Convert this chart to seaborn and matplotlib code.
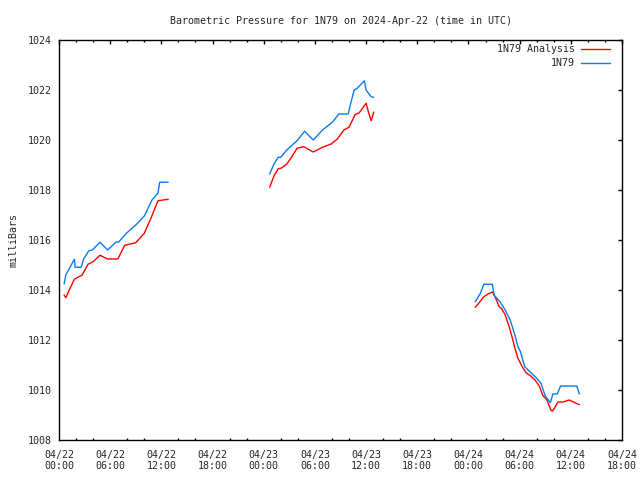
import matplotlib
matplotlib.use("Agg")
import matplotlib.pyplot as plt
import seaborn as sns
import pandas as pd
from matplotlib.lines import Line2D

# ---- data (hours since 2024-04-22 00:00 UTC, pressure in mb) ----
analysis_seg1_t = [0.6, 0.8, 1.3, 1.8, 2.2, 2.7, 3.4, 4.0, 4.8, 5.7, 6.9, 7.7, 9.0, 10.0, 10.8, 11.6, 12.8]
analysis_seg1_p = [1013.80, 1013.69, 1014.07, 1014.43, 1014.51, 1014.59, 1015.03, 1015.13, 1015.39, 1015.24,
                   1015.24, 1015.79, 1015.89, 1016.27, 1016.89, 1017.57, 1017.63]
obs_seg1_t = [0.6, 0.8, 1.8, 1.9, 2.6, 2.9, 3.5, 3.9, 4.8, 5.7, 6.7, 7.0, 7.9, 9.0, 10.0, 10.9, 11.6, 11.8, 12.8]
obs_seg1_p = [1014.24, 1014.60, 1015.23, 1014.91, 1014.91, 1015.25, 1015.57, 1015.60, 1015.91, 1015.60,
              1015.92, 1015.92, 1016.27, 1016.60, 1016.96, 1017.60, 1017.87, 1018.31, 1018.31]

analysis_seg2_t = [24.7, 25.2, 25.7, 26.1, 26.7, 27.3, 27.9, 28.7, 29.8, 30.9, 31.9, 32.6, 33.4, 34.0, 34.7,
                   35.2, 36.0, 36.3, 36.6, 36.9]
analysis_seg2_p = [1018.11, 1018.56, 1018.85, 1018.88, 1019.04, 1019.33, 1019.67, 1019.73, 1019.52, 1019.71,
                   1019.84, 1020.03, 1020.40, 1020.51, 1021.01, 1021.09, 1021.47, 1021.09, 1020.77, 1021.12]
obs_seg2_t = [24.7, 25.2, 25.7, 26.0, 26.7, 27.9, 28.8, 29.8, 30.9, 32.1, 32.8, 33.9, 34.2, 34.6, 34.9, 35.8,
              36.0, 36.6, 36.9]
obs_seg2_p = [1018.64, 1019.04, 1019.31, 1019.31, 1019.60, 1019.97, 1020.35, 1020.00, 1020.40, 1020.73,
              1021.04, 1021.04, 1021.47, 1022.00, 1022.05, 1022.37, 1022.00, 1021.73, 1021.71]

analysis_seg3_t = [48.8, 49.2, 49.8, 50.3, 50.8, 51.2, 51.6, 51.9, 52.3, 52.75, 53.1, 53.5, 53.8, 54.3, 54.75,
                   55.3, 55.8, 56.3, 56.7, 57.2, 57.7, 57.9, 58.5, 59.1, 59.8, 60.3, 61.0]
analysis_seg3_p = [1013.31, 1013.47, 1013.73, 1013.84, 1013.92, 1013.67, 1013.33, 1013.25, 1013.01, 1012.56,
                   1012.13, 1011.60, 1011.27, 1010.93, 1010.69, 1010.56, 1010.40, 1010.16, 1009.79, 1009.60,
                   1009.17, 1009.17, 1009.52, 1009.52, 1009.60, 1009.52, 1009.41]
obs_seg3_t = [48.8, 49.4, 49.8, 50.8, 51.0, 51.7, 52.3, 52.9, 53.5, 53.8, 54.1, 54.6, 55.2, 56.0, 56.5, 57.0,
              57.6, 57.9, 58.4, 58.8, 60.7, 61.0]
obs_seg3_p = [1013.53, 1013.87, 1014.23, 1014.23, 1013.80, 1013.53, 1013.20, 1012.80, 1012.13, 1011.73,
              1011.53, 1010.93, 1010.73, 1010.47, 1010.27, 1009.76, 1009.49, 1009.84, 1009.84, 1010.16,
              1010.16, 1009.84]

series_names = ["1N79 Analysis", "1N79"]
series_colors = ["#ff0000", "#0a7cf0"]
x_tick_hours = [0, 6, 12, 18, 24, 30, 36, 42, 48, 54, 60, 66]
x_tick_labels = ["04/22\n00:00", "04/22\n06:00", "04/22\n12:00", "04/22\n18:00",
                 "04/23\n00:00", "04/23\n06:00", "04/23\n12:00", "04/23\n18:00",
                 "04/24\n00:00", "04/24\n06:00", "04/24\n12:00", "04/24\n18:00"]
y_ticks = [1008, 1010, 1012, 1014, 1016, 1018, 1020, 1022, 1024]

rows = []
for name, segs in [
    ("1N79 Analysis", [(analysis_seg1_t, analysis_seg1_p), (analysis_seg2_t, analysis_seg2_p),
                       (analysis_seg3_t, analysis_seg3_p)]),
    ("1N79", [(obs_seg1_t, obs_seg1_p), (obs_seg2_t, obs_seg2_p), (obs_seg3_t, obs_seg3_p)]),
]:
    for i, (ts, ps) in enumerate(segs):
        for t, p in zip(ts, ps):
            rows.append({"hour": t, "pressure": p, "series": name, "seg": i})
df = pd.DataFrame(rows)

sns.set_theme(style="white")
plt.rcParams["font.family"] = ["DejaVu Sans Mono"]
FS = 7.2

fig = plt.figure(figsize=(6.4, 4.8), dpi=100)
ax = fig.add_axes([59 / 640, 40 / 480, 563 / 640, 400 / 480])

sns.lineplot(data=df, x="hour", y="pressure", hue="series", units="seg", estimator=None,
             hue_order=series_names, palette=series_colors, linewidth=1.0, ax=ax,
             legend=False, sort=False)

ax.set_xlim(0, 66)
ax.set_ylim(1008, 1024)
ax.set_xticks(x_tick_hours)
ax.set_xticklabels(x_tick_labels, fontsize=FS)
ax.set_xticks(list(range(0, 67, 2)), minor=True)
ax.set_yticks(y_ticks)
ax.set_yticklabels([str(v) for v in y_ticks], fontsize=FS)
ax.tick_params(axis="both", which="major", direction="in", length=3, width=1, color="black",
               top=True, right=True, pad=5)
ax.tick_params(axis="x", which="minor", direction="in", length=1.7, width=1, color="black",
               top=True, bottom=True)
ax.tick_params(axis="x", which="major", pad=7)
for s in ax.spines.values():
    s.set_color("black")
    s.set_linewidth(1)
ax.set_xlabel("")
ax.set_ylabel("milliBars", fontsize=FS, labelpad=7)
ax.set_title("Barometric Pressure for 1N79 on 2024-Apr-22 (time in UTC)", fontsize=FS, pad=11.5)
ax.grid(False)

handles = [Line2D([0], [0], color=c, lw=1.0) for c in series_colors]
leg = ax.legend(handles, series_names, loc="upper right", frameon=False, fontsize=FS,
                markerfirst=False, handlelength=2.9, handletextpad=0.6, labelspacing=0.36,
                borderpad=0, borderaxespad=0,
                bbox_to_anchor=(610 / 640, 1 - 44.5 / 480), bbox_transform=fig.transFigure)

fig.savefig("out.png", dpi=100)
